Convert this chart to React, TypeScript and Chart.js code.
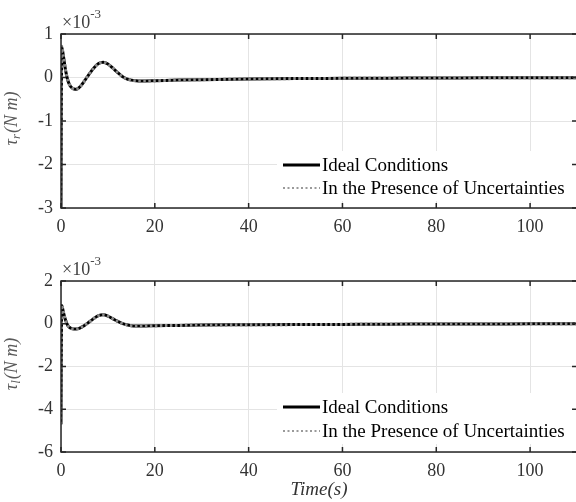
import React, { useEffect, useRef } from "react";
import { Chart, registerables } from "chart.js";
Chart.register(...registerables);

const SERIF = '"Liberation Serif", "Times New Roman", serif';

// time axis (s)
const time = [0, 0.15, 0.5, 1, 1.5, 2, 2.5, 3, 3.5, 4, 5, 6, 7, 8, 9, 10, 11, 12, 13, 14, 15, 16, 17, 18, 20, 25, 30, 40, 50, 60, 70, 80, 90, 100, 110];

// tau_r (x 1e-3 N m)
const tauRIdeal = [-3.0, 0.7, 0.5, 0.15, -0.08, -0.2, -0.25, -0.27, -0.26, -0.22, -0.08, 0.08, 0.22, 0.32, 0.35, 0.31, 0.22, 0.12, 0.03, -0.03, -0.06, -0.075, -0.08, -0.08, -0.075, -0.06, -0.05, -0.035, -0.025, -0.02, -0.015, -0.01, -0.008, -0.005, -0.004];
const tauRUncertain = [-3.0, 0.72, 0.5, 0.15, -0.08, -0.2, -0.25, -0.27, -0.26, -0.22, -0.08, 0.08, 0.22, 0.32, 0.35, 0.31, 0.22, 0.12, 0.03, -0.03, -0.06, -0.075, -0.08, -0.08, -0.075, -0.06, -0.05, -0.035, -0.025, -0.02, -0.015, -0.01, -0.008, -0.005, -0.004];

// tau_l (x 1e-3 N m)
const tauLIdeal = [-4.7, 0.85, 0.55, 0.15, -0.1, -0.2, -0.24, -0.25, -0.24, -0.2, -0.08, 0.08, 0.25, 0.38, 0.42, 0.36, 0.24, 0.12, 0.02, -0.05, -0.09, -0.1, -0.1, -0.1, -0.09, -0.08, -0.06, -0.05, -0.04, -0.03, -0.02, -0.015, -0.01, -0.005, 0];
const tauLUncertain = [-4.7, 0.87, 0.55, 0.15, -0.1, -0.2, -0.24, -0.25, -0.24, -0.2, -0.08, 0.08, 0.25, 0.38, 0.42, 0.36, 0.24, 0.12, 0.02, -0.05, -0.09, -0.1, -0.1, -0.1, -0.09, -0.08, -0.06, -0.05, -0.04, -0.03, -0.02, -0.015, -0.01, -0.005, 0];

const xTicks = [0, 20, 40, 60, 80, 100];
const yTicksTop = [-3, -2, -1, 0, 1];
const yTicksBottom = [-6, -4, -2, 0, 2];
const legendLabels = ["Ideal Conditions", "In the Presence of Uncertainties"];

type PanelCfg = {
  ideal: number[];
  uncertain: number[];
  yMin: number;
  yMax: number;
  yTicks: number[];
  height: number;
  padTop: number;
  xAxisHeight: number;
  legendY1: number;
  legendY2: number;
  sub: string;
  showXTitle: boolean;
};

function decorPlugin(cfg: PanelCfg) {
  return {
    id: "matlabDecor",
    afterDraw(chart: any) {
      const ctx: CanvasRenderingContext2D = chart.ctx;
      const a = chart.chartArea;
      const xs = chart.scales.x;
      const ys = chart.scales.y;
      ctx.save();
      // box
      ctx.strokeStyle = "#262626";
      ctx.lineWidth = 1.5;
      ctx.strokeRect(a.left, a.top, a.right - a.left, a.bottom - a.top);
      // inward ticks
      ctx.beginPath();
      for (const v of xTicks) {
        const px = xs.getPixelForValue(v);
        ctx.moveTo(px, a.bottom);
        ctx.lineTo(px, a.bottom - 5);
        ctx.moveTo(px, a.top);
        ctx.lineTo(px, a.top + 5);
      }
      for (const v of cfg.yTicks) {
        const py = ys.getPixelForValue(v);
        ctx.moveTo(a.left, py);
        ctx.lineTo(a.left + 5, py);
        ctx.moveTo(a.right, py);
        ctx.lineTo(a.right - 5, py);
      }
      ctx.stroke();

      // legend
      const lx0 = 277;
      const lx1 = 572;
      ctx.fillStyle = "#ffffff";
      ctx.fillRect(lx0, cfg.legendY1 - 14, lx1 - lx0, cfg.legendY2 - cfg.legendY1 + 27);
      ctx.setLineDash([]);
      ctx.strokeStyle = "#000000";
      ctx.lineWidth = 3;
      ctx.beginPath();
      ctx.moveTo(283, cfg.legendY1);
      ctx.lineTo(320, cfg.legendY1);
      ctx.stroke();
      ctx.strokeStyle = "#9a9a9a";
      ctx.lineWidth = 2;
      ctx.setLineDash([2, 2.5]);
      ctx.beginPath();
      ctx.moveTo(283, cfg.legendY2);
      ctx.lineTo(320, cfg.legendY2);
      ctx.stroke();
      ctx.setLineDash([]);
      ctx.fillStyle = "#000000";
      ctx.font = `19px ${SERIF}`;
      ctx.textAlign = "left";
      ctx.textBaseline = "middle";
      ctx.fillText(legendLabels[0], 322, cfg.legendY1 + 1);
      ctx.fillText(legendLabels[1], 322, cfg.legendY2 + 1);

      // exponent
      ctx.fillStyle = "#404040";
      ctx.textBaseline = "alphabetic";
      ctx.font = `18px ${SERIF}`;
      ctx.fillText("\u00d710", a.left + 1, a.top - 6);
      const w = ctx.measureText("\u00d710").width;
      ctx.font = `13px ${SERIF}`;
      ctx.fillText("-3", a.left + 1 + w, a.top - 16);

      // y label
      ctx.save();
      ctx.translate(12, (a.top + a.bottom) / 2 - 2);
      ctx.rotate(-Math.PI / 2);
      ctx.fillStyle = "#5a5a5a";
      ctx.textBaseline = "middle";
      const mainFont = `italic 18px ${SERIF}`;
      const subFont = `italic 13px ${SERIF}`;
      ctx.font = mainFont;
      const wTau = ctx.measureText("\u03c4").width;
      const wRest = ctx.measureText("(N m)").width;
      ctx.font = subFont;
      const wSub = ctx.measureText(cfg.sub).width;
      let x = -(wTau + wSub + wRest) / 2;
      ctx.font = mainFont;
      ctx.fillText("\u03c4", x, 0);
      x += wTau;
      ctx.font = subFont;
      ctx.fillText(cfg.sub, x, 5);
      x += wSub + 1;
      ctx.font = mainFont;
      ctx.fillText("(N m)", x, 0);
      ctx.restore();

      if (cfg.showXTitle) {
        ctx.fillStyle = "#333333";
        ctx.font = `italic 19px ${SERIF}`;
        ctx.textAlign = "center";
        ctx.textBaseline = "middle";
        ctx.fillText("Time(s)", 319, 245);
      }
      ctx.restore();
    },
  };
}

function Panel({ cfg }: { cfg: PanelCfg }) {
  const ref = useRef<HTMLCanvasElement>(null);
  useEffect(() => {
    if (!ref.current) return;
    const chart = new Chart(ref.current, {
      type: "line",
      data: {
        datasets: [
          {
            label: legendLabels[1],
            data: time.map((t, i) => ({ x: t, y: cfg.uncertain[i] })),
            borderColor: "#8a8a8a",
            borderWidth: 3,
            borderDash: [2.5, 2.5],
            pointRadius: 0,
            cubicInterpolationMode: "monotone",
            order: 0,
          },
          {
            label: legendLabels[0],
            data: time.map((t, i) => ({ x: t, y: cfg.ideal[i] })),
            borderColor: "#000000",
            borderWidth: 3,
            pointRadius: 0,
            cubicInterpolationMode: "monotone",
            order: 1,
          },
        ],
      },
      options: {
        animation: false,
        responsive: false,
        events: [],
        layout: { padding: { top: cfg.padTop, right: 3, left: 0, bottom: 0 } },
        plugins: { legend: { display: false }, tooltip: { enabled: false } },
        scales: {
          x: {
            type: "linear",
            min: 0,
            max: 110,
            afterBuildTicks: (s: any) => {
              s.ticks = xTicks.map((v) => ({ value: v }));
            },
            afterFit: (s: any) => {
              s.height = cfg.xAxisHeight;
            },
            grid: { color: "#e4e4e4", lineWidth: 1, drawTicks: false },
            border: { display: false },
            ticks: {
              padding: 8,
              color: "#333333",
              font: { family: SERIF, size: 18 },
              maxRotation: 0,
              autoSkip: false,
            },
          },
          y: {
            type: "linear",
            min: cfg.yMin,
            max: cfg.yMax,
            afterBuildTicks: (s: any) => {
              s.ticks = cfg.yTicks.map((v) => ({ value: v }));
            },
            afterFit: (s: any) => {
              s.width = 61;
            },
            grid: { color: "#e4e4e4", lineWidth: 1, drawTicks: false },
            border: { display: false },
            ticks: {
              padding: 8,
              color: "#333333",
              font: { family: SERIF, size: 18 },
              autoSkip: false,
            },
          },
        },
      },
      plugins: [decorPlugin(cfg)],
    } as any);
    return () => chart.destroy();
  }, [cfg]);
  return <canvas ref={ref} width={580} height={cfg.height} style={{ display: "block", width: 580, height: cfg.height }} />;
}

const topCfg: PanelCfg = {
  ideal: tauRIdeal,
  uncertain: tauRUncertain,
  yMin: -3,
  yMax: 1,
  yTicks: yTicksTop,
  height: 245,
  padTop: 34,
  xAxisHeight: 37,
  legendY1: 165,
  legendY2: 188,
  sub: "r",
  showXTitle: false,
};

const bottomCfg: PanelCfg = {
  ideal: tauLIdeal,
  uncertain: tauLUncertain,
  yMin: -6,
  yMax: 2,
  yTicks: yTicksBottom,
  height: 257,
  padTop: 36,
  xAxisHeight: 50,
  legendY1: 162,
  legendY2: 186,
  sub: "l",
  showXTitle: true,
};

export default function App() {
  return (
    <div
      style={{
        position: "fixed",
        left: 0,
        top: 0,
        width: 576,
        height: 502,
        overflow: "hidden",
        background: "#ffffff",
      }}
    >
      <Panel cfg={topCfg} />
      <Panel cfg={bottomCfg} />
    </div>
  );
}
